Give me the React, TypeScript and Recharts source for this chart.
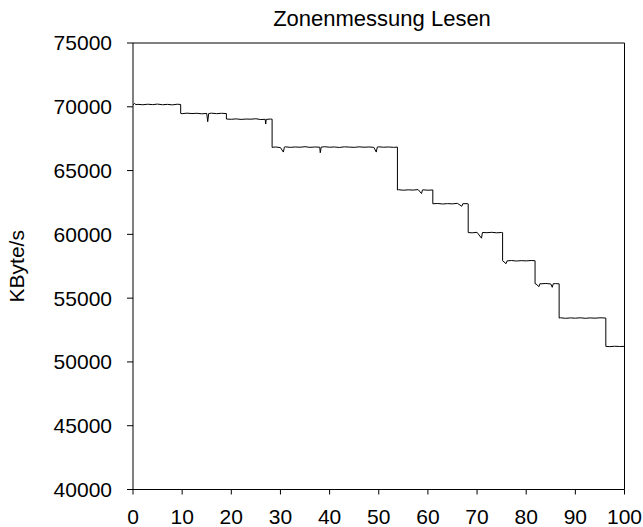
import React from "react";
import { LineChart, Line, XAxis, YAxis, ReferenceLine } from "recharts";

const pos = [
    0, 0.3, 0.6, 1, 2, 3, 4, 5, 6, 7, 8, 9, 9.7,
    9.7, 10, 11, 12, 13, 14, 15, 15.2, 15.4, 16, 17, 18, 19,
    19, 20, 21, 22, 23, 24, 25, 26, 26.9, 27, 27.1, 28, 28.3,
    28.3, 29, 30, 30.6, 30.8, 31, 32, 33, 34, 35, 36, 37, 38, 38.1, 38.3, 39, 40, 41, 42, 43, 44, 45, 46, 47, 48, 49, 49.5, 49.7, 50, 51, 52, 53, 53.8,
    53.8, 54, 55, 56, 57, 58, 58.7, 58.9, 59, 60, 61,
    61, 62, 63, 64, 65, 66, 66.9, 67.1, 68, 68.2,
    68.2, 69, 70, 70.9, 71.1, 72, 73, 74, 75, 75.2,
    75.2, 75.9, 76.1, 77, 78, 79, 80, 81, 81.8,
    81.8, 82, 82.6, 82.8, 83, 84, 85, 85.3, 85.5, 86, 86.7,
    86.7, 87, 88, 89, 90, 91, 92, 93, 94, 95, 96.2,
    96.2, 97, 98, 99, 100,
];

const rate = [
    70150, 70260, 70170, 70190, 70160, 70200, 70170, 70210, 70160, 70190, 70150, 70200, 70180,
    69480, 69460, 69500, 69470, 69490, 69450, 69480, 68830, 69470, 69500, 69460, 69490, 69470,
    69040, 69020, 69050, 69010, 69040, 69030, 69060, 69000, 69020, 68650, 69010, 69040, 69030,
    66820, 66850, 66800, 66450, 66840, 66860, 66820, 66850, 66830, 66870, 66820, 66850, 66830, 66400, 66840, 66870, 66830, 66850, 66810, 66860, 66840, 66820, 66860, 66830, 66850, 66820, 66450, 66840, 66860, 66830, 66850, 66820, 66840,
    63480, 63500, 63460, 63490, 63470, 63510, 63200, 63480, 63490, 63460, 63480,
    62400, 62420, 62380, 62410, 62390, 62430, 62200, 62400, 62410, 62390,
    60140, 60120, 60160, 59700, 60150, 60130, 60160, 60120, 60150, 60140,
    57930, 57700, 57920, 57950, 57910, 57940, 57920, 57950, 57930,
    56130, 56110, 55900, 56140, 56120, 56150, 56110, 55850, 56130, 56140, 56120,
    53440, 53460, 53420, 53450, 53430, 53460, 53420, 53450, 53430, 53460, 53440,
    51220, 51200, 51230, 51210, 51220,
];

const xTicks = [0, 10, 20, 30, 40, 50, 60, 70, 80, 90, 100];
const yTicks = [40000, 45000, 50000, 55000, 60000, 65000, 70000, 75000];

const data = pos.map((p, i) => ({ pos: p, rate: rate[i] }));

const font = "'Liberation Sans', Arial, sans-serif";
const tickStyle = { fill: "#000", fontSize: 21, fontFamily: font };

export default function App() {
    return (
        <div style={{ position: "relative", width: 643, height: 527, background: "#fff" }}>
            <style>{"body{margin:0}"}</style>
            <div
                style={{
                    position: "absolute",
                    top: 8,
                    left: 382,
                    transform: "translateX(-50%)",
                    fontFamily: font,
                    fontSize: 22,
                    lineHeight: "22px",
                    whiteSpace: "nowrap",
                    color: "#000",
                }}
            >
                Zonenmessung Lesen
            </div>
            <LineChart
                width={643}
                height={527}
                data={data}
                margin={{ top: 43, right: 18.5, bottom: 0, left: 0 }}
            >
                <XAxis
                    dataKey="pos"
                    type="number"
                    domain={[0, 100]}
                    ticks={xTicks}
                    interval={0}
                    height={37.5}
                    tickSize={5}
                    tickMargin={15}
                    stroke="#000"
                    tick={tickStyle}
                />
                <YAxis
                    type="number"
                    domain={[40000, 75000]}
                    ticks={yTicks}
                    interval={0}
                    width={133}
                    tickSize={6}
                    tickMargin={15}
                    stroke="#000"
                    tick={tickStyle}
                    allowDataOverflow
                    label={{
                        value: "KByte/s",
                        angle: -90,
                        position: "insideLeft",
                        offset: 17,
                        style: { textAnchor: "middle", fill: "#000", fontSize: 21, fontFamily: font },
                    }}
                />
                <ReferenceLine y={75000} stroke="#000" strokeWidth={1} />
                <ReferenceLine x={100} stroke="#000" strokeWidth={1} />
                <Line
                    type="linear"
                    dataKey="rate"
                    stroke="#000"
                    strokeWidth={1}
                    dot={false}
                    isAnimationActive={false}
                />
            </LineChart>
        </div>
    );
}
